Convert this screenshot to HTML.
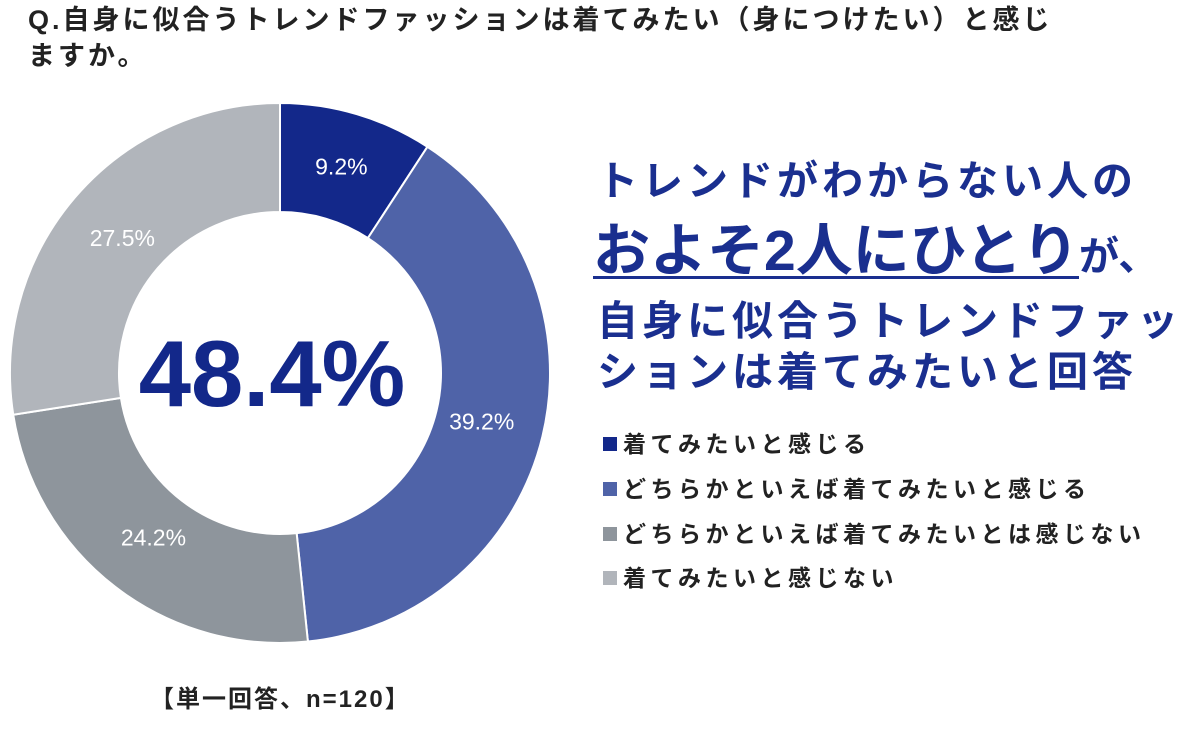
<!DOCTYPE html>
<html><head><meta charset="utf-8"><style>
body{margin:0;width:1200px;height:736px;background:#fff;overflow:hidden;font-family:"Liberation Sans","Noto Sans CJK JP",sans-serif;position:relative}
.t{position:absolute;white-space:nowrap;font-weight:bold}
.hl{color:#1a2f8f;font-size:41px;letter-spacing:4px}
.lg{position:absolute;left:603px;font-size:23px;font-weight:bold;color:#222;white-space:nowrap;letter-spacing:4.5px}
.lg span{display:inline-block;width:14px;height:14px;margin-right:6px;vertical-align:1px}
</style></head><body>
<div class="t" style="left:28px;top:2px;font-size:27px;color:#222;line-height:36px;letter-spacing:3px">Q.自身に似合うトレンドファッションは着てみたい（身につけたい）と感じ<br>ますか。</div>
<svg id="chart" width="580" height="680" style="position:absolute;left:0;top:0"></svg>
<div class="t hl" style="left:597px;top:147px">トレンドがわからない人の</div>
<div class="t" style="left:593px;top:205px;color:#1a2f8f"><span style="font-size:57px;text-decoration:underline;text-decoration-thickness:3px;text-underline-offset:6px">およそ2人にひとり</span><span style="font-size:40px">が、</span></div>
<div class="t hl" style="left:597px;top:287px">自身に似合うトレンドファッ</div>
<div class="t hl" style="left:597px;top:338px">ションは着てみたいと回答</div>
<div class="lg" style="top:425px"><span style="background:#13288a"></span>着てみたいと感じる</div>
<div class="lg" style="top:470px"><span style="background:#4f63a8"></span>どちらかといえば着てみたいと感じる</div>
<div class="lg" style="top:515px"><span style="background:#8e959c"></span>どちらかといえば着てみたいとは感じない</div>
<div class="lg" style="top:559px"><span style="background:#b1b5bb"></span>着てみたいと感じない</div>
<div class="t" style="left:150px;top:679px;font-size:24px;color:#222;letter-spacing:2px">【単一回答、n=120】</div>
<script>
const categories=["着てみたいと感じる","どちらかといえば着てみたいと感じる","どちらかといえば着てみたいとは感じない","着てみたいと感じない"];
const values=[9.2,39.2,24.2,27.5];
const valueLabels=["9.2%","39.2%","24.2%","27.5%"];
const colors=["#13288a","#4f63a8","#8e959c","#b1b5bb"];
const centerLabel="48.4%";
const svg=document.getElementById('chart');const NS="http://www.w3.org/2000/svg";
const cx=280,cy=373,R=270,r=161;
const total=values.reduce((a,b)=>a+b,0);
function pt(a,rad){return [cx+rad*Math.sin(a),cy-rad*Math.cos(a)];}
let acc=0;
values.forEach((v,i)=>{
const a0=acc/total*2*Math.PI;acc+=v;const a1=acc/total*2*Math.PI;
const lg=(a1-a0)>Math.PI?1:0;
const [x0,y0]=pt(a0,R),[x1,y1]=pt(a1,R),[x2,y2]=pt(a1,r),[x3,y3]=pt(a0,r);
const p=document.createElementNS(NS,'path');
p.setAttribute('d',`M${x0},${y0}A${R},${R} 0 ${lg} 1 ${x1},${y1}L${x2},${y2}A${r},${r} 0 ${lg} 0 ${x3},${y3}Z`);
p.setAttribute('fill',colors[i]);p.setAttribute('stroke','#fff');p.setAttribute('stroke-width','2');


svg.appendChild(p);
const am=(a0+a1)/2;const [tx,ty]=pt(am,(R+r)/2+(i==0?0:-8));
const t=document.createElementNS(NS,'text');
t.setAttribute('x',tx);t.setAttribute('y',ty+8);t.setAttribute('text-anchor','middle');
t.setAttribute('fill','#fff');t.setAttribute('font-size','23');t.setAttribute('font-family','Liberation Sans, sans-serif');
t.textContent=valueLabels[i];


svg.appendChild(t);
});
const c=document.createElementNS(NS,'text');
c.setAttribute('x',cx-8);c.setAttribute('y',cy+33);c.setAttribute('text-anchor','middle');
c.setAttribute('fill','#13288a');c.setAttribute('font-size','94');c.setAttribute('font-weight','bold');c.setAttribute('font-family','Liberation Sans, sans-serif');
c.textContent=centerLabel;


svg.appendChild(c);
</script>
</body></html>
